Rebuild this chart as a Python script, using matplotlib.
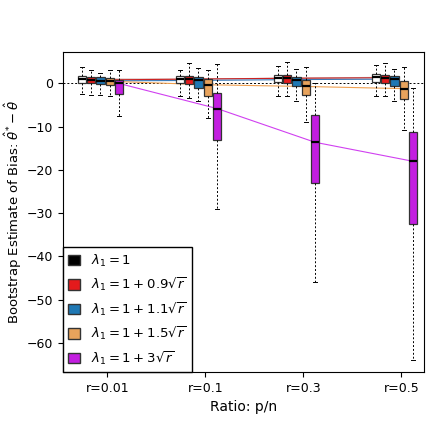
import matplotlib
matplotlib.use('Agg')
from matplotlib import pyplot as plt
from matplotlib.patches import Patch

ratios = ['r=0.01', 'r=0.1', 'r=0.3', 'r=0.5']
labels = [r'$\lambda_1=1$', r'$\lambda_1=1+0.9\sqrt{r}$', r'$\lambda_1=1+1.1\sqrt{r}$',
          r'$\lambda_1=1+1.5\sqrt{r}$', r'$\lambda_1=1+3\sqrt{r}$']
colors = ['white', '#e41a1c', '#1f78b4', '#e8a35c', '#c31ee0']
legend_colors = ['black', '#e41a1c', '#1f78b4', '#e8a35c', '#c31ee0']
line_colors = ['#c0a0a0', '#cc2222', '#3a7ab8', '#f0a050', '#d040f0']

# per series, per ratio: (whislo, q1, med, q3, whishi)
stats = [
    [(-2.5, 0.0, 1.0, 1.8, 3.8), (-3.0, 0.2, 1.0, 1.8, 3.0), (-3.0, 0.3, 1.2, 2.0, 4.0), (-3.0, 0.4, 1.4, 2.2, 4.2)],
    [(-2.7, 0.0, 0.8, 1.5, 3.0), (-3.3, -0.2, 1.0, 1.8, 4.7), (-3.0, 0.2, 1.2, 2.0, 5.0), (-3.0, 0.2, 1.3, 2.0, 4.7)],
    [(-2.7, -0.2, 0.6, 1.4, 2.5), (-4.0, -1.0, 0.7, 1.4, 3.5), (-4.0, -0.6, 0.9, 1.6, 3.3), (-4.0, -0.6, 1.0, 1.8, 3.3)],
    [(-3.0, -0.3, 0.5, 1.2, 3.0), (-8.0, -2.8, -0.3, 1.0, 3.0), (-9.0, -2.6, -0.7, 0.8, 3.7), (-10.8, -3.7, -1.2, 0.6, 3.7)],
    [(-7.6, -2.5, 0.0, 0.7, 3.0), (-29.0, -13.0, -5.8, -2.3, 4.6), (-46.0, -23.0, -13.6, -7.4, 0.0), (-64.0, -32.5, -18.0, -11.3, -1.0)],
]
offsets = [-0.26, -0.165, -0.07, 0.025, 0.12]

fig, ax = plt.subplots(figsize=(4.36, 4.36), dpi=100)
fig.subplots_adjust(left=0.145, right=0.972, top=0.88, bottom=0.147)

for s, off in enumerate(offsets):
    bx = [dict(whislo=a, q1=b, med=c, q3=d, whishi=e, fliers=[]) for a, b, c, d, e in stats[s]]
    pos = [i + 1 + off for i in range(4)]
    ax.plot(pos, [b['med'] for b in bx], color=line_colors[s], lw=0.8, zorder=1)
    ax.bxp(bx, positions=pos, widths=0.085, patch_artist=True, manage_ticks=False,
           boxprops=dict(facecolor=colors[s], edgecolor='#333333', lw=0.9),
           medianprops=dict(color='black', lw=1.6),
           whiskerprops=dict(ls=(0, (2, 2)), lw=0.7, color='black'),
           capprops=dict(lw=0.7, color='black'), capwidths=0.04)

ax.axhline(0, color='black', ls=(0, (2, 2)), lw=0.7, zorder=0)
ax.set_xlim(0.55, 4.23)
ax.set_ylim(-66.7, 7.2)
ax.set_xticks([1, 2, 3, 4])
ax.set_xticklabels(ratios, fontsize=9)
ax.set_yticks([0, -10, -20, -30, -40, -50, -60])
ax.tick_params(labelsize=9)
ax.set_xlabel('Ratio: p/n', fontsize=10)
ax.set_ylabel(r'Bootstrap Estimate of Bias: $\bar{\hat{\theta}}^{*}-\hat{\theta}$', fontsize=9.5, labelpad=2)

handles = [Patch(facecolor=c, edgecolor='#333333') for c in legend_colors]
ax.legend(handles, labels, loc='lower left', fontsize=9.5, fancybox=False, edgecolor='black',
          borderaxespad=0, handlelength=0.9, handleheight=0.9, framealpha=1)

fig.savefig('out.png', dpi=100)
